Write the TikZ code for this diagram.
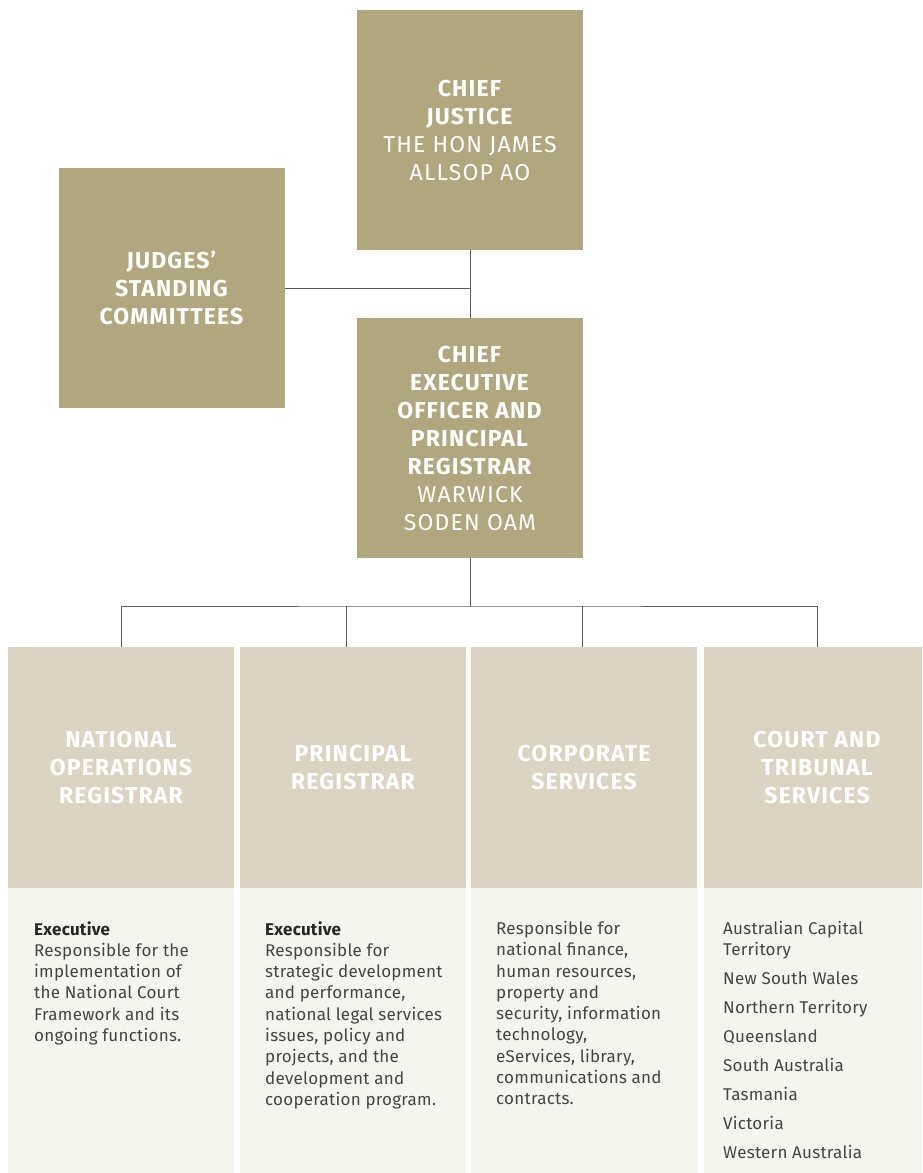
\documentclass[tikz,border=0pt]{standalone}
\usepackage{fontspec}
\setmainfont{Fira Sans}
\newfontfamily\headfont[LetterSpace=5]{Fira Sans}
\newfontfamily\bodyfont[LetterSpace=1.5]{Fira Sans}
\usetikzlibrary{positioning}

\definecolor{chiefgold}{HTML}{B1A77E}
\definecolor{sandhead}{HTML}{DBD4C2}
\definecolor{paperbody}{HTML}{F5F5F0}
\definecolor{linegray}{HTML}{5A5A5A}
\definecolor{bodyink}{HTML}{444444}

\begin{document}
\begin{tikzpicture}[x=1pt, y=-1pt, node distance=6pt,
    senior/.style={fill=chiefgold, minimum width=226pt, minimum height=240pt, inner sep=0pt, outer sep=0pt,
        text=white, align=center, font=\headfont\fontsize{23}{28}\selectfont},
    branch/.style={fill=sandhead, minimum width=226pt, minimum height=241pt, inner sep=0pt, outer sep=0pt,
        text=white, align=center, font=\headfont\bfseries\fontsize{23}{28}\selectfont},
    remit/.style={fill=paperbody, minimum width=226pt, minimum height=290pt, inner sep=0pt, outer sep=0pt},
    remittext/.style={anchor=north west, inner sep=0pt, text=bodyink, align=left,
        font=\bodyfont\fontsize{17}{21.3}\selectfont},
    link/.style={draw=linegray, line width=1pt}]

    \clip (0,0) rectangle (922,1173);

    % Chief Justice, CEO and committees
    \node[senior] (cj) at (470,130) {\textbf{CHIEF}\\\textbf{JUSTICE}\\THE HON JAMES\\ALLSOP AO};
    \node[senior, below=68pt of cj] (ceo) {
        \textbf{CHIEF}\\\textbf{EXECUTIVE}\\\textbf{OFFICER AND}\\\textbf{PRINCIPAL}\\\textbf{REGISTRAR}\\WARWICK\\SODEN OAM};
    \node[senior] (jsc) at (172,288) {\textbf{JUDGES’}\\\textbf{STANDING}\\\textbf{COMMITTEES}};

    % Branches
    \node[branch] (nat) at (121,767.5) {NATIONAL\\OPERATIONS\\REGISTRAR};
    \node[branch, right=6pt of nat] (pr) {PRINCIPAL\\REGISTRAR};
    \node[branch, right=5pt of pr] (cs) {CORPORATE\\SERVICES};
    \node[branch, right=7pt of cs] (cts) {COURT AND\\TRIBUNAL\\SERVICES};

    \node[remit, below=0pt of nat] (natr) {};
    \node[remit, below=0pt of pr] (prr) {};
    \node[remit, below=0pt of cs] (csr) {};
    \node[remit, below=0pt of cts] (ctsr) {};

    \node[remittext] (nattxt) at ([xshift=26pt, yshift=-33pt]natr.north west) {
        \textcolor{black!85}{\textbf{Executive}}\\Responsible for the\\implementation of\\the National Court\\Framework and its\\ongoing functions.};
    \node[remittext] (prtxt) at ([xshift=25pt, yshift=-33pt]prr.north west) {
        \textcolor{black!85}{\textbf{Executive}}\\Responsible for\\strategic development\\and performance,\\national legal services\\issues, policy and\\projects, and the\\development and\\cooperation program.};
    \node[remittext] (cstxt) at ([xshift=25pt, yshift=-33pt]csr.north west) {
        Responsible for\\national finance,\\human resources,\\property and\\security, information\\technology,\\eServices, library,\\communications and\\contracts.};
    \node[remittext] (ctstxt) at ([xshift=19pt, yshift=-33pt]ctsr.north west) {
        Australian Capital\\Territory\\[7.7pt]New South Wales\\[7.7pt]Northern Territory\\[7.7pt]Queensland\\[7.7pt]South Australia\\[7.7pt]Tasmania\\[7.7pt]Victoria\\[7.7pt]Western Australia};

    % Reporting lines
    \draw[link] (cj) -- (ceo);
    \draw[link] (jsc.east) -- (jsc.east -| cj.south);
    \draw[link] (ceo.south) -- ++(0,48) coordinate (bus);
    \draw[link] (nat.north) |- (bus) -| (cts.north);
    \draw[link] ([xshift=-7pt]pr.north) -- ([xshift=-7pt]pr.north |- bus);
    \draw[link] ([xshift=-2pt]cs.north) -- ([xshift=-2pt]cs.north |- bus);

\end{tikzpicture}
\end{document}
